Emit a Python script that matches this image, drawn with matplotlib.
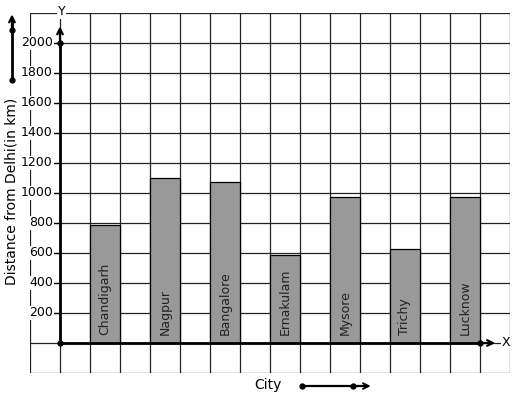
import matplotlib.pyplot as plt

cities = ['Chandigarh', 'Nagpur', 'Bangalore', 'Ernakulam', 'Mysore', 'Trichy', 'Lucknow']
distance = [790, 1100, 1070, 590, 970, 625, 975]
yticks = [200, 400, 600, 800, 1000, 1200, 1400, 1600, 1800, 2000]

fig = plt.figure(figsize=(5.17, 3.99), dpi=100)
ax = fig.add_axes([30/517, 1-373/399, 480/517, 360/399])
ax.set_xlim(-1, 15)
ax.set_ylim(-200, 2200)

# grid
for gx in range(-1, 16):
    ax.axvline(gx, color='#222222', lw=0.9, zorder=1)
for gy in range(-200, 2201, 200):
    ax.axhline(gy, color='#222222', lw=0.9, zorder=1)

# bars
xpos = [1 + 2*i for i in range(len(cities))]
ax.bar(xpos, distance, width=1, align='edge', color='#999999',
       edgecolor='black', linewidth=0.9, zorder=2)
for x, name in zip(xpos, cities):
    ax.text(x + 0.5, 55, name, rotation=90, ha='center', va='bottom',
            fontsize=9, color='#222222', zorder=3)

wbox = dict(facecolor='white', edgecolor='none', pad=0.6)

# axes lines with arrows
ax.plot([0, 14], [0, 0], color='black', lw=2, zorder=4, clip_on=False)
ax.annotate('', xy=(14.6, 0), xytext=(13.9, 0),
            arrowprops=dict(arrowstyle='->', lw=1.6, color='black'), zorder=4)
ax.plot([0, 0], [0, 2000], color='black', lw=2, zorder=4)
ax.annotate('', xy=(0, 2130), xytext=(0, 1950),
            arrowprops=dict(arrowstyle='->', lw=1.6, color='black'), zorder=4)
ax.plot([0, 0, 14], [0, 2000, 0], 'o', color='black', ms=3.5, zorder=5)
ax.text(14.72, 0, 'X', ha='left', va='center', fontsize=9, clip_on=False,
        bbox=wbox, zorder=6)
ax.text(0.05, 2165, 'Y', ha='center', va='bottom', fontsize=9, clip_on=False,
        bbox=wbox, zorder=6)

# y tick labels
for t in yticks:
    ax.plot([-0.25, 0], [t, t], color='black', lw=0.9, zorder=4)
    ax.text(-0.24, t, str(t), ha='right', va='center', fontsize=9, zorder=6,
            bbox=wbox)

# side arrow and labels
ax.plot([-1.6, -1.6], [1753, 2140], color='black', lw=2, clip_on=False)
ax.annotate('', xy=(-1.6, 2210), xytext=(-1.6, 2050),
            arrowprops=dict(arrowstyle='->', lw=1.6, color='black'),
            annotation_clip=False)
ax.plot([-1.6, -1.6], [1753, 2087], 'o', color='black', ms=3.5, clip_on=False)
ax.text(-1.6, 1010, 'Distance from Delhi(in km)', rotation=90, ha='center',
        va='center', fontsize=10, clip_on=False)

ax.text(6.93, -280, 'City', ha='center', va='center', fontsize=10, clip_on=False)
ax.plot([8.07, 10.2], [-287, -287], color='black', lw=1.6, clip_on=False)
ax.annotate('', xy=(10.45, -287), xytext=(9.8, -287),
            arrowprops=dict(arrowstyle='->', lw=1.4, color='black'),
            annotation_clip=False)
ax.plot([8.07, 9.77], [-287, -287], 'o', color='black', ms=3.5, clip_on=False)

ax.axis('off')
fig.savefig('out.png', dpi=100)
